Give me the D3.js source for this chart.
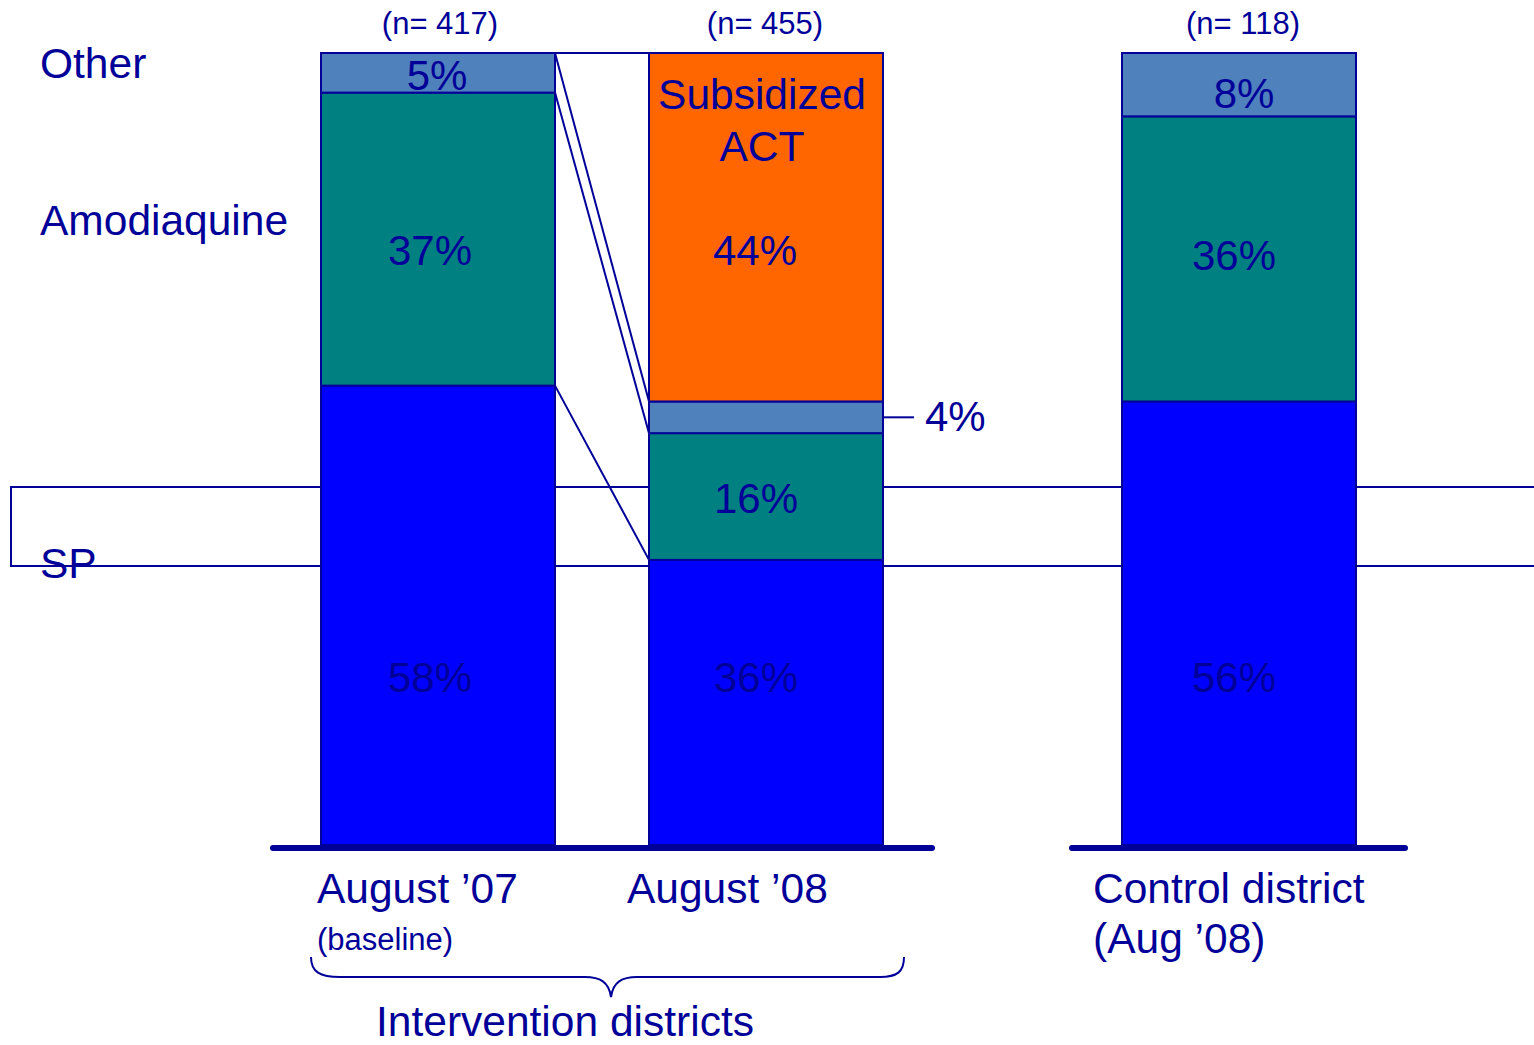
<!DOCTYPE html>
<html lang="en">
<head>
  <meta charset="UTF-8">
  <title>Antimalarial drug sold - intervention vs control districts</title>
  <script src="https://d3js.org/d3.v7.min.js"></script>
  <style>
    body { margin: 0; background: #fff; }
    svg { display: block; }
    text { font-family: "Liberation Sans", Arial, sans-serif; fill: #000099; }
  </style>
</head>
<body>
  <div id="chart"></div>
  <script>
    // Data
    const periods = ["August ’07", "August ’08", "Control district"];
    const sampleN = [417, 455, 118];
    const sp = [58, 36, 56];
    const amodiaquine = [37, 16, 36];
    const other = [5, 4, 8];
    const act = [0, 44, 0];
    const seriesNames = ["SP", "Amodiaquine", "Other", "Subsidized ACT"];

    const W = 1534, H = 1045;
    const navy = "#000099";
    const colors = { "SP": "#0000ff", "Amodiaquine": "#008080", "Other": "#4f81bd", "Subsidized ACT": "#ff6600" };
    const big = "42.5px", small = "31px";

    const svg = d3.select("#chart").append("svg")
      .attr("width", W).attr("height", H);

    // scales
    const y = d3.scaleLinear().domain([0, 100]).range([845, 53]);
    const x = d3.scaleOrdinal().domain(periods).range([321, 649, 1122]);
    const barW = 234;

    // stack the series
    const rows = periods.map((p, i) => ({
      period: p, "SP": sp[i], "Amodiaquine": amodiaquine[i], "Other": other[i], "Subsidized ACT": act[i]
    }));
    const stacked = d3.stack().keys(seriesNames)(rows);

    // stray frame behind the bars
    svg.append("rect")
      .attr("x", 11).attr("y", 487)
      .attr("width", W + 20).attr("height", 79)
      .attr("fill", "none").attr("stroke", navy).attr("stroke-width", 2);

    // bars
    stacked.forEach(s => {
      svg.append("g").selectAll("rect")
        .data(s.filter(d => d[1] > d[0]))
        .enter().append("rect")
        .attr("x", d => x(d.data.period))
        .attr("y", d => y(d[1]))
        .attr("width", barW)
        .attr("height", d => y(d[0]) - y(d[1]))
        .attr("fill", colors[s.key])
        .attr("stroke", navy)
        .attr("stroke-width", 2);
    });

    // connector lines between Aug '07 and Aug '08
    const x1 = x(periods[0]) + barW, x2 = x(periods[1]);
    const top0 = [100, 100 - other[0], sp[0]];
    const top1 = [100 - act[1], sp[1] + amodiaquine[1], sp[1]];
    const links = [[100, 100]].concat(top0.map((v, i) => [v, top1[i]]));
    svg.append("g").selectAll("line")
      .data(links)
      .enter().append("line")
      .attr("x1", x1).attr("y1", d => y(d[0]))
      .attr("x2", x2).attr("y2", d => y(d[1]))
      .attr("stroke", navy).attr("stroke-width", 2);

    // baselines
    const baselines = [[273, 932], [1072, 1405]];
    svg.append("g").selectAll("line")
      .data(baselines)
      .enter().append("line")
      .attr("x1", d => d[0]).attr("x2", d => d[1])
      .attr("y1", y(0) + 3).attr("y2", y(0) + 3)
      .attr("stroke", navy).attr("stroke-width", 6)
      .attr("stroke-linecap", "round");

    // percentage labels (anchor in % units, x shift from bar centre)
    const labelAt = {
      "SP": [[19.3, -8], [19.3, -10], [19.3, -5]],
      "Amodiaquine": [[73.2, -8], [41.9, -10], [72.6, -5]],
      "Other": [[95.3, -1], null, [93.1, 5]],
      "Subsidized ACT": [null, [73.2, -11], null]
    };
    stacked.forEach(s => {
      s.forEach((d, i) => {
        const pos = labelAt[s.key][i];
        if (!pos || d[1] <= d[0]) return;
        svg.append("text")
          .attr("x", x(d.data.period) + barW / 2 + pos[1])
          .attr("y", y(pos[0]))
          .attr("text-anchor", "middle")
          .style("font-size", "42px")
          .text((d[1] - d[0]) + "%");
      });
    });

    // ACT name inside orange segment
    const actText = svg.append("text")
      .attr("text-anchor", "middle")
      .style("font-size", big);
    actText.append("tspan").attr("x", x(periods[1]) + barW / 2 - 4).attr("y", 109).text("Subsidized");
    actText.append("tspan").attr("x", x(periods[1]) + barW / 2 - 4).attr("y", 161).text("ACT");

    // 4% callout for Other in Aug '08
    const otherMid = y(sp[1] + amodiaquine[1] + other[1] / 2);
    svg.append("line")
      .attr("x1", x2 + barW).attr("x2", x2 + barW + 31)
      .attr("y1", otherMid).attr("y2", otherMid)
      .attr("stroke", navy).attr("stroke-width", 2);
    svg.append("text")
      .attr("x", x2 + barW + 42).attr("y", otherMid + 14)
      .style("font-size", "42px")
      .text(other[1] + "%");

    // sample sizes
    const nShift = [2, -1, 4];
    svg.append("g").selectAll("text")
      .data(sampleN)
      .enter().append("text")
      .attr("x", (d, i) => x(periods[i]) + barW / 2 + nShift[i])
      .attr("y", 34)
      .attr("text-anchor", "middle")
      .style("font-size", small)
      .text(d => "(n= " + d + ")");

    // series names on the left
    const seriesLabelY = [578, 235, 78];
    svg.append("g").selectAll("text")
      .data(seriesNames.slice(0, 3))
      .enter().append("text")
      .attr("x", 40)
      .attr("y", (d, i) => seriesLabelY[i])
      .style("font-size", big)
      .text(d => d);

    // category labels below
    const catX = [317, 627, 1093];
    svg.append("g").selectAll("text")
      .data(periods)
      .enter().append("text")
      .attr("x", (d, i) => catX[i])
      .attr("y", 903)
      .style("font-size", big)
      .text(d => d);
    svg.append("text").attr("x", 317).attr("y", 950)
      .style("font-size", small).text("(baseline)");
    svg.append("text").attr("x", 1093).attr("y", 953)
      .style("font-size", big).text("(Aug ’08)");

    // brace and group label
    svg.append("path")
      .attr("d", "M311,957 C311,972 320,977 340,977 L585,977 C600,977 609,982 611,997 C613,982 622,977 637,977 L880,977 C897,977 904,972 904,957")
      .attr("fill", "none").attr("stroke", navy).attr("stroke-width", 2);
    svg.append("text").attr("x", 376).attr("y", 1036)
      .style("font-size", big).text("Intervention districts");
  </script>
</body>
</html>
